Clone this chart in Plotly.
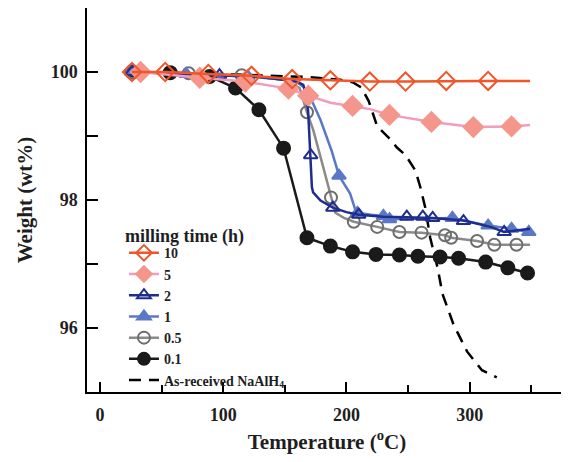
import plotly.graph_objects as go

# ---- data (temperature in C, weight in wt%) ----
t_10 = [26, 53, 88, 123, 156, 187, 219, 248, 281, 315, 349]
w_10 = [100.0, 100.0, 99.97, 99.94, 99.89, 99.87, 99.85, 99.85, 99.86, 99.86, 99.86]
t_10m = [26, 53, 88, 123, 156, 187, 219, 248, 281, 315]
w_10m = [100.0, 100.0, 99.97, 99.94, 99.89, 99.87, 99.85, 99.85, 99.86, 99.86]

t_5 = [26, 33, 81, 118, 153, 169, 187, 205, 219, 235, 252, 269, 303, 334, 349]
w_5 = [100.0, 100.0, 99.91, 99.85, 99.74, 99.63, 99.52, 99.47, 99.42, 99.33, 99.27, 99.22, 99.14, 99.15, 99.17]
t_5m = [33, 81, 118, 153, 169, 205, 235, 269, 303, 334]
w_5m = [100.0, 99.91, 99.85, 99.74, 99.63, 99.47, 99.33, 99.22, 99.14, 99.15]

t_2 = [26, 60, 97, 130, 160, 165, 168, 169, 170.5, 172, 173, 179, 189, 200, 210, 230, 249, 262, 270, 295, 317, 328, 349]
w_2 = [100.0, 99.98, 99.95, 99.92, 99.85, 99.8, 99.6, 99.37, 98.73, 98.2, 98.12, 97.99, 97.88, 97.81, 97.77, 97.74, 97.73, 97.73, 97.72, 97.68, 97.58, 97.50, 97.55]
t_2m = [26, 97, 171, 189, 210, 249, 262, 270, 295, 328]
w_2m = [100.0, 99.95, 98.70, 97.88, 97.77, 97.74, 97.74, 97.72, 97.67, 97.50]

t_1 = [26, 70, 120, 150, 160, 165, 172, 179, 188, 194, 203, 207, 209, 220, 230, 235, 260, 286, 315, 334, 348]
w_1 = [100.0, 99.97, 99.93, 99.88, 99.84, 99.77, 99.55, 99.25, 98.77, 98.38, 98.10, 97.86, 97.80, 97.77, 97.75, 97.70, 97.71, 97.72, 97.60, 97.55, 97.50]
t_1m = [26, 70, 120, 194, 209, 230, 235, 286, 315, 334, 348]
w_1m = [100.0, 99.97, 99.93, 98.38, 97.80, 97.75, 97.70, 97.72, 97.60, 97.55, 97.50]

t_05 = [26, 72, 115, 150, 162, 168, 173, 180, 187.5, 191, 198, 206, 225, 243, 261, 280, 285, 306, 320, 338, 349]
w_05 = [100.0, 99.98, 99.95, 99.88, 99.75, 99.37, 99.10, 98.60, 98.04, 97.80, 97.72, 97.66, 97.58, 97.50, 97.49, 97.45, 97.41, 97.36, 97.30, 97.30, 97.30]
t_05m = [26, 72, 115, 168, 187.5, 206, 225, 243, 261, 280, 285, 306, 320, 338]
w_05m = [100.0, 99.98, 99.95, 99.37, 98.04, 97.66, 97.58, 97.50, 97.49, 97.45, 97.41, 97.36, 97.30, 97.30]

t_01 = [26, 57, 89, 110, 129, 149, 168, 187, 205, 224, 243, 258, 276, 291, 313, 331, 347]
w_01 = [100.0, 99.99, 99.93, 99.75, 99.41, 98.81, 97.41, 97.28, 97.19, 97.15, 97.14, 97.12, 97.11, 97.09, 97.03, 96.94, 96.86]

t_ar = [25, 100, 170, 195, 205, 212, 218, 225, 234, 241, 248, 256, 260, 264, 268, 274, 278, 287, 298, 310, 322]
w_ar = [100.0, 99.97, 99.92, 99.88, 99.84, 99.76, 99.55, 99.15, 98.98, 98.82, 98.70, 98.46, 98.20, 97.88, 97.41, 96.94, 96.53, 96.05, 95.63, 95.34, 95.23]

x_ticks = [0, 100, 200, 300]
x_minor = [50, 150, 250, 350]
y_ticks = [96, 98, 100]
y_minor = [97, 99]

FONT = "Liberation Serif"
INK = "#1e1e1e"

# name, line t, line w, marker t, marker w, line colour, marker symbol, marker colour, marker size
series = [
    ("10", t_10, w_10, t_10m, w_10m, "#F0562A", "diamond-open", "#F0562A", 14),
    ("5", t_5, w_5, t_5m, w_5m, "#F49BBB", "diamond", "#F4968C", 15),
    ("2", t_2, w_2, t_2m, w_2m, "#1F2D8E", "triangle-up-open", "#1F2D8E", 12),
    ("1", t_1, w_1, t_1m, w_1m, "#5B78C6", "triangle-up", "#5B78C6", 12),
    ("0.5", t_05, w_05, t_05m, w_05m, "#8A8A8A", "circle-open", "#6E6E6E", 12),
    ("0.1", t_01, w_01, t_01, w_01, "#1A1A1A", "circle", "#1A1A1A", 13),
]

fig = go.Figure()

# legend-only entries, in the legend order
for name, t, w, tm, wm, col, sym, mcol, ms in series:
    fig.add_trace(go.Scatter(x=[None], y=[None], mode="lines+markers", name=name,
                             line=dict(color=col, width=2.5),
                             marker=dict(symbol=sym, color=mcol, size=12,
                                         line=dict(color=mcol, width=2))))
fig.add_trace(go.Scatter(x=[None], y=[None], mode="lines", name="As-received NaAlH<sub>4</sub>",
                         line=dict(color="black", width=2.5, dash="12px,8px")))

# actual curves, drawn back to front
fig.add_trace(go.Scatter(x=t_ar, y=w_ar, mode="lines", showlegend=False,
                         line=dict(color="black", width=2.5, dash="12px,8px")))
for name, t, w, tm, wm, col, sym, mcol, ms in reversed(series):
    fig.add_trace(go.Scatter(x=t, y=w, mode="lines", showlegend=False,
                             line=dict(color=col, width=2.5)))
    fig.add_trace(go.Scatter(x=tm, y=wm, mode="markers", showlegend=False,
                             marker=dict(symbol=sym, color=mcol, size=ms,
                                         line=dict(color=mcol, width=2))))

axis_common = dict(showgrid=False, zeroline=False, showline=True, linecolor="black",
                   linewidth=1.5, mirror=True, ticks="inside", tickcolor="black",
                   tickwidth=1.5, automargin=False,
                   tickfont=dict(family=FONT, size=18, color=INK, weight="bold"))

fig.update_xaxes(range=[-10.5, 379], tickvals=x_ticks, ticklen=10, ticklabelstandoff=6,
                 minor=dict(tickvals=x_minor, ticks="inside", ticklen=7, tickcolor="black", tickwidth=1.5),
                 title=dict(text="Temperature (<sup>o</sup>C)", standoff=10,
                            font=dict(family=FONT, size=21, color=INK, weight="bold")),
                 **axis_common)
fig.update_yaxes(range=[95, 101], tickvals=y_ticks, ticklen=11, ticklabelstandoff=4,
                 minor=dict(tickvals=y_minor, ticks="inside", ticklen=11, tickcolor="black", tickwidth=1.5),
                 title=dict(text="Weight (wt%)", standoff=12,
                            font=dict(family=FONT, size=21, color=INK, weight="bold")),
                 **axis_common)

fig.add_annotation(text="milling time (h)", xref="paper", yref="paper",
                   x=0.074, y=0.404, xanchor="left", yanchor="middle", showarrow=False,
                   font=dict(family=FONT, size=18, color=INK, weight="bold"))

# the page puts the figure 8px in from the top-left, so the figure is 8px smaller
fig.update_layout(
    width=561, height=454,
    margin=dict(l=79, r=2, t=0, b=70),
    plot_bgcolor="white", paper_bgcolor="white",
    legend=dict(x=0.077, y=0.403, xanchor="left", yanchor="top",
                bgcolor="rgba(0,0,0,0)",
                font=dict(family=FONT, size=14, color=INK, weight="bold")),
)

fig.write_html("out.html")
